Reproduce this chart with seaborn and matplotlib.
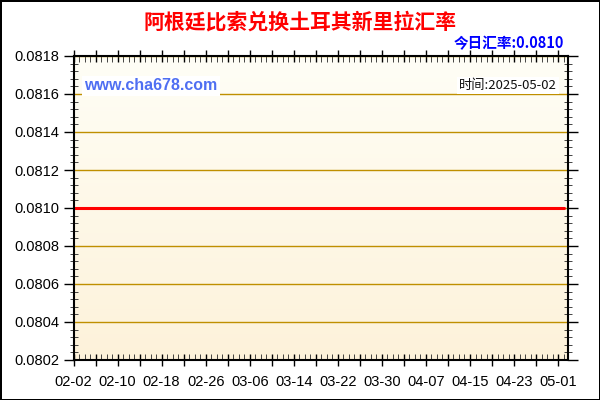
import numpy as np
import pandas as pd
import matplotlib
matplotlib.use('Agg')
import matplotlib.pyplot as plt
import matplotlib.ticker as mticker
import seaborn as sns

sns.set_style("white")
plt.rcParams['font.family'] = ['Liberation Sans', 'Noto Sans CJK SC', 'DejaVu Sans']

CJK = ['Noto Sans CJK SC', 'DejaVu Sans']
GOLD = '#BF8F00'
RED = '#FF0000'
BLUE = '#0000FF'

# data
start_date = '2025-02-02'
end_date = '2025-05-02'
dates = pd.date_range(start_date, end_date, freq='D')
rates = [
    0.0810, 0.0810, 0.0810, 0.0810, 0.0810, 0.0810, 0.0810, 0.0810, 0.0810, 0.0810,
    0.0810, 0.0810, 0.0810, 0.0810, 0.0810, 0.0810, 0.0810, 0.0810, 0.0810, 0.0810,
    0.0810, 0.0810, 0.0810, 0.0810, 0.0810, 0.0810, 0.0810, 0.0810, 0.0810, 0.0810,
    0.0810, 0.0810, 0.0810, 0.0810, 0.0810, 0.0810, 0.0810, 0.0810, 0.0810, 0.0810,
    0.0810, 0.0810, 0.0810, 0.0810, 0.0810, 0.0810, 0.0810, 0.0810, 0.0810, 0.0810,
    0.0810, 0.0810, 0.0810, 0.0810, 0.0810, 0.0810, 0.0810, 0.0810, 0.0810, 0.0810,
    0.0810, 0.0810, 0.0810, 0.0810, 0.0810, 0.0810, 0.0810, 0.0810, 0.0810, 0.0810,
    0.0810, 0.0810, 0.0810, 0.0810, 0.0810, 0.0810, 0.0810, 0.0810, 0.0810, 0.0810,
    0.0810, 0.0810, 0.0810, 0.0810, 0.0810, 0.0810, 0.0810, 0.0810, 0.0810, 0.0810,
]
y_ticks = [0.0802, 0.0804, 0.0806, 0.0808, 0.0810, 0.0812, 0.0814, 0.0816, 0.0818]
title = '阿根廷比索兑换土耳其新里拉汇率'
today_rate = '今日汇率:0.0810'
stamp = '时间:2025-05-02'
site = 'www.cha678.com'

df = pd.DataFrame({'day': np.arange(len(dates)), 'rate': rates})

fig = plt.figure(figsize=(6, 4), dpi=100)
fig.patch.set_facecolor('white')
fig.patch.set_edgecolor('black')
fig.patch.set_linewidth(2)
ax = fig.add_axes([0.1225, 0.1, 0.8242, 0.76])

# gradient background
grad = np.linspace(0, 1, 256).reshape(-1, 1)
cmap = matplotlib.colors.LinearSegmentedColormap.from_list('bg', ['#FFFEF6', '#FDF2DA'])
ax.imshow(grad, aspect='auto', cmap=cmap, extent=[0, 1, 0, 1],
          transform=ax.transAxes, zorder=0)

for yv in y_ticks:
    ax.axhline(yv, color=GOLD, linewidth=1, zorder=1)

sns.lineplot(data=df, x='day', y='rate', color=RED, linewidth=2.2, ax=ax, zorder=3)

ax.set_xlim(0, 89.8)
ax.set_ylim(y_ticks[0], y_ticks[-1])
ax.set_xlabel('')
ax.set_ylabel('')

# x ticks: major every 4 days, labels every 8 days, minor daily
maj = list(range(0, 89, 4))
ax.xaxis.set_major_locator(mticker.FixedLocator(maj))
labels = [dates[d].strftime('%m-%d') if d % 8 == 0 else '' for d in maj]
ax.xaxis.set_major_formatter(mticker.FixedFormatter(labels))
ax.xaxis.set_minor_locator(mticker.MultipleLocator(1))

ax.yaxis.set_major_locator(mticker.FixedLocator(y_ticks))
ax.yaxis.set_major_formatter(mticker.FormatStrFormatter('%.4f'))
ax.yaxis.set_minor_locator(mticker.MultipleLocator(0.00004))

ax.tick_params(axis='both', which='major', labelsize=10.5, colors='black', width=1)
ax.tick_params(axis='y', which='major', direction='out', length=7, left=True, right=True)
ax.tick_params(axis='y', which='minor', direction='inout', length=6, left=True, right=True)
ax.tick_params(axis='x', which='major', direction='inout', length=9, bottom=True, top=True)
ax.tick_params(axis='x', which='minor', direction='in', length=4, bottom=True, top=True)
ax.tick_params(axis='y', which='both', labelleft=True, labelright=False)
ax.tick_params(axis='x', which='major', pad=6)

for s in ax.spines.values():
    s.set_color('black')
    s.set_linewidth(1.5)
    s.set_zorder(5)

ax.text(0.022, 0.902, site, transform=ax.transAxes, color='#4F6FF2', fontsize=11.5,
        fontweight='bold', va='center', ha='left', zorder=4,
        bbox=dict(facecolor='white', edgecolor='none', pad=2))
ax.text(0.978, 0.902, stamp, transform=ax.transAxes, color='#111111', fontsize=9.5,
        va='center', ha='right', zorder=4, family=CJK,
        bbox=dict(facecolor='white', edgecolor='none', pad=1.5))

fig.text(0.5, 0.945, title, color=RED, fontsize=15, fontweight='bold',
         ha='center', va='center', family=CJK)
fig.text(0.94, 0.893, today_rate, color=BLUE, fontsize=10.5, fontweight='bold',
         ha='right', va='center', family=CJK)

fig.savefig('out.png', dpi=100, facecolor=fig.get_facecolor(), edgecolor=fig.get_edgecolor())
